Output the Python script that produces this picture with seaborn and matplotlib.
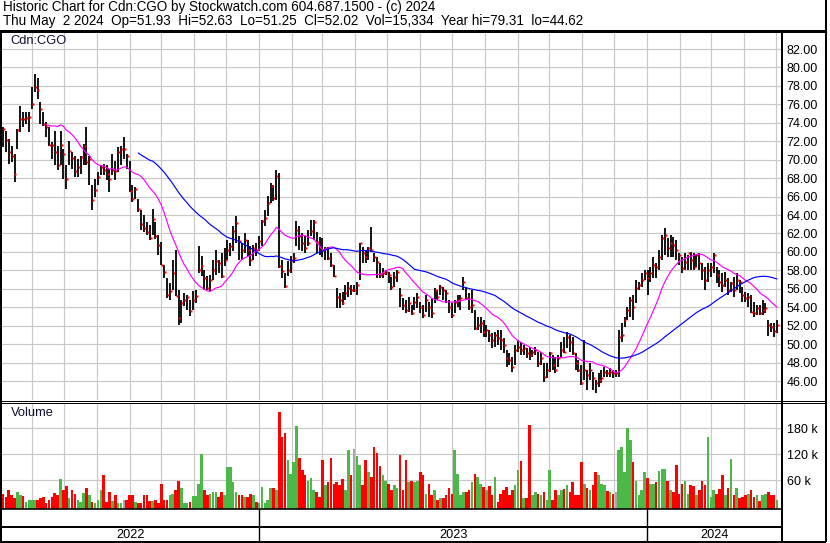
import numpy as np
import pandas as pd
import matplotlib
matplotlib.use("Agg")
import matplotlib.pyplot as plt
import matplotlib.dates as mdates
import matplotlib.ticker as mticker
import seaborn as sns

# ---------------- data (approx. every 2nd session) -------------
price_low = [
    71.35, 70.81, 69.55, 69.73, 67.57, 71.17, 72.97, 73.51, 73.87, 72.97, 75.5, 77.3, 76.58, 73.87, 73.69,
    72.43, 71.53, 70.09, 69.37, 68.83, 69.37, 67.93, 66.85, 69.37, 69.01, 68.11, 68.11, 68.47, 69.37, 69.37,
    67.21, 64.5, 65.95, 67.21, 68.29, 68.29, 67.75, 66.49, 68.29, 67.75, 68.65, 69.37, 70.09, 69.01, 66.49,
    65.41, 65.77, 64.32, 62.34, 62.16, 61.8, 61.26, 61.8, 61.44, 59.64, 58.56, 57.12, 54.95,
    54.82, 55.91, 55.18, 52.12, 52.3, 54.1, 53.74, 53.02, 53.74, 54.46, 57.71, 57.35, 55.91, 55.91, 55.73,
    56.99, 57.53, 57.71, 57.17, 58.43, 59.16, 59.52, 60.06, 60.96, 59.16, 59.16, 59.88, 59.52, 58.43, 59.16,
    59.52, 60.06, 60.6, 62.77, 63.85, 65.29, 65.47, 65.65, 58.2, 57.17, 56.09, 57.35, 57.71, 58.79, 60.6,
    60.24, 60.06, 59.88, 60.6, 61.68, 61.32,
    59.85, 59.67, 59.49, 59.13, 59.13, 58.4, 57.32, 53.89, 53.89, 54.25, 54.79, 55.16, 55.34, 55.7, 55.34,
    56.96, 58.77, 58.77, 59.13, 60.03, 58.95, 57.14, 57.14, 57.14, 57.5, 56.6, 55.88, 56.24, 56.78, 54.07,
    53.71, 53.35, 53.53, 53.17, 53.71, 53.89, 53.35, 52.81, 53.53, 52.99, 52.81, 54.43, 54.79, 55.34, 54.79,
    54.43, 53.35, 52.81, 53.35, 54.07, 53.71, 55.88, 54.79, 53.71,
    53.33, 51.52, 51.52, 51.16, 50.8, 50.8, 50.26, 49.54, 49.72, 49.9, 49.36, 49.0, 47.55, 47.73, 47.01,
    47.73, 49.18, 48.82, 48.82, 48.45, 48.27, 48.64, 48.82, 47.55, 47.73, 45.93, 46.29, 47.01, 47.19, 46.83,
    47.55, 48.64, 49.0, 49.54, 49.18, 48.82, 47.19, 47.01, 45.57, 46.11, 45.03, 46.11, 45.03, 44.66, 45.39,
    45.75, 46.47, 46.47, 46.47, 46.29, 46.47, 46.47, 50.26,
    51.89, 52.61, 52.97, 52.61, 54.42, 55.86, 56.22, 56.95, 55.32, 56.77, 57.13, 57.13, 58.03, 59.11, 59.65,
    59.47, 59.47, 59.47, 59.11, 58.57, 57.67, 58.03, 58.03, 58.03, 58.03, 58.39, 58.03, 56.95, 55.86, 56.77,
    57.31, 57.67, 56.58, 56.22, 55.68, 56.22, 55.32, 55.68, 55.14, 55.86, 55.5, 54.6, 54.6, 54.06, 53.34,
    52.97, 53.16, 53.16, 53.16, 53.34, 50.9, 51.35, 50.81, 51.25,
]
price_high = [
    73.51, 73.15, 72.25, 71.53, 70.63, 73.33, 75.86, 75.14, 75.14, 75.14, 77.84, 79.28, 78.9, 76.22, 75.14,
    74.05, 73.51, 71.89, 73.15, 71.53, 73.15, 71.17, 69.37, 72.07, 70.81, 70.45, 70.09, 70.45, 71.71, 73.51,
    70.45, 67.21, 67.93, 68.65, 69.37, 69.55, 69.37, 69.01, 70.63, 69.91, 71.35, 71.53, 72.43, 70.63, 69.91,
    67.21, 67.03, 65.77, 64.5, 63.96, 63.24, 62.88, 64.68, 63.24, 61.8, 61.08, 58.56, 57.12,
    56.63, 59.16, 60.24, 55.91, 54.82, 55.55, 55.36, 54.82, 55.73, 55.91, 60.6, 59.52, 58.07, 57.35, 57.53,
    59.16, 60.24, 59.16, 59.88, 60.42, 61.32, 60.96, 62.77, 63.85, 61.68, 60.96, 62.04, 61.32, 60.6, 60.78,
    60.96, 61.68, 63.49, 64.57, 66.01, 67.46, 67.28, 68.9, 68.6, 59.16, 57.71, 58.97, 59.52, 59.88, 63.31,
    62.77, 62.04, 61.68, 62.4, 63.49, 63.46,
    62.19, 61.65, 61.47, 60.57, 60.57, 59.85, 58.58, 56.06, 55.52, 55.7, 56.42, 56.78, 56.42, 56.42, 56.78,
    60.93, 60.57, 60.21, 60.57, 62.74, 59.85, 59.49, 58.77, 58.22, 58.04, 57.86, 57.32, 57.86, 58.04, 56.06,
    54.97, 54.79, 55.16, 54.25, 55.16, 55.52, 54.61, 54.25, 55.34, 54.61, 54.97, 56.06, 55.88, 56.42, 56.24,
    55.88, 54.79, 54.43, 54.79, 55.34, 55.34, 57.32, 56.24, 55.52,
    55.86, 53.69, 52.97, 52.97, 52.61, 52.06, 51.52, 51.16, 51.34, 51.52, 51.52, 50.62, 49.36, 49.0, 48.64,
    49.9, 50.44, 50.26, 49.9, 49.54, 49.72, 49.36, 49.72, 49.18, 49.18, 47.91, 47.91, 49.18, 48.82, 48.64,
    48.82, 50.26, 50.8, 51.34, 50.98, 50.8, 49.0, 48.27, 47.73, 50.4, 47.19, 47.91, 47.01, 46.11, 46.83,
    47.19, 47.55, 47.19, 47.37, 47.19, 47.19, 51.52, 52.25,
    52.97, 54.06, 55.14, 55.32, 56.95, 56.77, 57.67, 58.03, 58.03, 58.39, 59.47, 58.75, 60.19, 61.82, 62.54,
    61.46, 61.82, 61.64, 61.28, 59.83, 59.47, 59.83, 59.65, 60.01, 59.83, 59.65, 59.83, 58.75, 58.39, 58.75,
    58.75, 59.83, 58.39, 58.03, 57.67, 57.85, 57.13, 56.77, 57.31, 57.67, 56.95, 56.22, 55.68, 55.5, 55.32,
    54.6, 54.24, 54.24, 54.78, 54.42, 52.61, 52.25, 52.25, 52.63,
]
price_close = [
    73.33, 72.1, 70.88, 70.45, 68.47, 73.26, 74.41, 74.4, 74.5, 74.6, 76.04, 77.84, 77.6, 75.5, 73.84,
    73.51, 71.64, 71.6, 70.81, 69.37, 71.6, 70.63, 67.86, 70.99, 70.16, 68.72, 69.19, 70.27, 71.53, 69.73,
    70.09, 65.59, 66.67, 68.11, 69.19, 68.9, 68.47, 67.93, 68.83, 68.72, 70.88, 71.17, 71.17, 70.45, 66.56,
    65.77, 66.85, 64.68, 63.06, 62.59, 62.16, 61.51, 63.53, 61.73, 60.72, 58.56, 57.84, 55.32,
    55.73, 57.71, 55.18, 52.84, 54.46, 54.82, 55.11, 53.56, 54.82, 55.18, 58.07, 58.43, 57.17, 56.09, 56.99,
    58.07, 58.97, 58.79, 57.35, 59.16, 60.24, 60.6, 62.22, 63.13, 61.14, 60.24, 61.32, 60.24, 59.16, 60.42,
    60.24, 61.14, 63.31, 63.67, 65.29, 67.1, 65.83, 68.18, 58.51, 57.89, 56.27, 58.07, 59.16, 59.34, 62.4,
    61.68, 60.96, 60.42, 60.96, 62.22, 63.28,
    61.11, 60.57, 60.21, 60.39, 59.31, 58.58, 57.39, 55.16, 54.79, 54.43, 55.52, 56.06, 55.88, 55.88, 56.42,
    60.93, 59.85, 59.49, 60.39, 60.21, 59.49, 58.95, 57.5, 57.68, 57.86, 57.5, 56.17, 57.32, 57.86, 55.34,
    54.25, 53.71, 54.43, 53.35, 54.61, 55.16, 54.07, 53.17, 54.79, 54.07, 53.35, 55.88, 55.16, 56.17, 55.88,
    55.52, 54.07, 53.17, 54.61, 54.79, 54.97, 56.78, 54.97, 54.07,
    54.23, 51.7, 52.06, 52.25, 51.34, 51.52, 50.98, 50.44, 50.98, 50.62, 50.44, 49.9, 48.45, 48.27, 47.55,
    49.36, 49.72, 49.36, 49.54, 49.0, 48.82, 49.18, 49.36, 47.91, 48.45, 46.47, 47.19, 49.0, 47.73, 47.19,
    48.45, 49.36, 49.18, 50.8, 50.26, 49.0, 47.91, 47.19, 45.75, 47.19, 46.65, 47.19, 46.29, 45.75, 46.11,
    46.29, 47.01, 46.83, 47.01, 46.83, 46.83, 50.8, 50.98,
    52.61, 53.7, 54.78, 54.06, 56.04, 56.4, 56.95, 57.67, 57.13, 57.67, 58.57, 58.39, 59.47, 61.46, 61.82,
    60.38, 60.92, 60.74, 60.19, 59.65, 58.21, 58.93, 59.83, 59.11, 58.39, 59.65, 58.75, 58.03, 56.95, 58.03,
    58.39, 59.65, 57.49, 56.77, 56.4, 56.95, 55.86, 56.58, 55.86, 56.95, 56.77, 55.32, 54.96, 55.14, 53.52,
    53.34, 53.88, 53.34, 53.7, 53.88, 52.07, 51.89, 51.4, 52.02,
]
volume_k = [
    29, 22, 38, 25, 18, 32, 25, 23, 10, 14, 14, 14, 14, 18, 22, 8, 14, 22, 31, 25,
    62, 38, 47, 18, 38, 28, 14, 10, 31, 41, 25, 10, 8, 15, 38, 72, 10, 32, 12, 25,
    6, 6, 14, 14, 25, 25, 10, 8, 8, 25, 25, 12, 12, 15, 6, 50, 14, 14,
    25, 29, 37, 58, 41, 6, 6, 10, 23, 23, 52, 120, 37, 25, 27, 33, 33, 22, 33, 25,
    91, 91, 55, 33, 25, 25, 20, 22, 29, 25, 10, 8, 45, 8, 15, 41, 41, 37, 218, 160,
    169, 106, 75, 102, 185, 112, 83, 72, 58, 64, 37,
    33, 22, 106, 48, 56, 112, 52, 55, 48, 62, 37, 129, 72, 132, 116, 95, 48, 106, 79, 68,
    137, 122, 93, 72, 58, 50, 37, 48, 41, 118, 37, 106, 56, 58, 56, 58, 79, 73, 29, 50,
    25, 38, 14, 19, 18, 25, 42, 28, 129, 75, 25, 33, 33, 37,
    55, 75, 68, 50, 45, 37, 47, 25, 68, 10, 29, 37, 45, 25, 37, 48, 83, 105, 18, 18,
    187, 25, 32, 29, 25, 32, 14, 83, 14, 37, 25, 37, 39, 48, 33, 56, 25, 25, 102, 52,
    41, 37, 48, 79, 72, 50, 48, 35, 33, 29, 33, 129, 137,
    78, 181, 152, 102, 58, 25, 37, 79, 64, 52, 52, 55, 81, 85, 85, 58, 37, 32, 96, 27,
    50, 58, 27, 48, 47, 25, 37, 58, 48, 161, 22, 37, 29, 39, 72, 25, 41, 108, 25, 41,
    18, 22, 25, 27, 37, 22, 25, 12, 25, 29, 32, 25, 25, 15,
]
price_ticks = [46, 48, 50, 52, 54, 56, 58, 60, 62, 64, 66, 68, 70, 72, 74, 76, 78, 80, 82]
volume_ticks_k = [60, 120, 180]
year_labels = ["2022", "2023", "2024"]
first_date, last_date = "2022-05-05", "2024-05-02"
ma_short, ma_long = 16, 48
symbol = "Cdn:CGO"
header_1 = "Historic Chart for Cdn:CGO by Stockwatch.com 604.687.1500 - (c) 2024"
header_2 = ("Thu May  2 2024  Op=51.93  Hi=52.63  Lo=51.25  Cl=52.02  Vol=15,334  "
            "Year hi=79.31  lo=44.62")

# ---------------- styling ----------------
sns.set_style("white")
plt.rcParams["font.family"] = ["Liberation Sans", "DejaVu Sans"]
GRID = "#C8C8C8"
UP, DOWN, FLAT = "#4CB848", "#FF0000", "#A8A8A8"

n = min(len(price_low), len(price_high), len(price_close), len(volume_k))
dates = pd.date_range(first_date, last_date, periods=n)
df = pd.DataFrame({
    "date": dates,
    "low": price_low[:n], "high": price_high[:n], "close": price_close[:n],
    "vol": volume_k[:n],
})
df["ma_s"] = df["close"].rolling(ma_short).mean()
df["ma_l"] = df["close"].rolling(ma_long).mean()
chg = df["close"].diff().fillna(-1)
df["vcol"] = np.where(chg > 0, UP, np.where(chg < 0, DOWN, FLAT))

W, H = 830, 543
fig = plt.figure(figsize=(W / 100, H / 100), dpi=100)
fig.patch.set_facecolor("white")


def rect(x0, y0, x1, y1):
    return [x0 / W, 1 - y1 / H, (x1 - x0) / W, (y1 - y0) / H]


X0, X1 = 1.5, 781.0
px_per_day = (777 - 3) / ((dates[-1] - dates[0]).days)
xl = dates[0] - pd.Timedelta(days=(3 - X0) / px_per_day)
xr = dates[-1] + pd.Timedelta(days=(X1 - 777) / px_per_day)


def style_axes(ax):
    ax.set_xlim(xl, xr)
    for s in ax.spines.values():
        s.set_visible(False)
    ax.set_facecolor("white")
    ax.set_axisbelow(True)
    ax.xaxis.set_major_locator(mdates.MonthLocator())
    ax.tick_params(axis="x", length=0, labelbottom=False)
    ax.yaxis.tick_right()
    ax.tick_params(axis="y", length=0, pad=4.2, labelsize=9.0, labelcolor="black")
    ax.grid(True, color=GRID, lw=0.85)
    ax.set_xlabel("")
    ax.set_ylabel("")


# ---------------- price panel ----------------
axp = fig.add_axes(rect(X0, 32, X1, 400))
axp.vlines(df["date"], df["low"], df["high"], color="black", lw=1.3, zorder=3)
axp.plot(df["date"] + pd.Timedelta(days=0.9), df["close"], ls="none", marker="s",
         ms=1.5, color="#FF0000", mec="none", zorder=4)
sns.lineplot(data=df, x="date", y="ma_s", ax=axp, color="#FF00FF", lw=0.85, zorder=5)
sns.lineplot(data=df, x="date", y="ma_l", ax=axp, color="#0000FF", lw=0.85, zorder=5)
axp.set_ylim(43.94, 83.845)
axp.set_yticks(price_ticks)
axp.yaxis.set_major_formatter(mticker.FormatStrFormatter("%.2f"))
style_axes(axp)
axp.text(9 / (X1 - X0), 1 - (41.5 - 32) / 368, symbol, transform=axp.transAxes,
         ha="left", va="center", fontsize=9.3, color="#101030")

# ---------------- volume panel ----------------
vmin, vmax = -6.9, 237.7
axv = fig.add_axes(rect(X0, 403.5, X1, 509))
axv.bar(df["date"], df["vol"] - vmin, bottom=vmin, width=2.45,
        color=df["vcol"], linewidth=0, zorder=3)
axv.set_ylim(vmin, vmax)
axv.set_yticks(volume_ticks_k)
axv.yaxis.set_major_formatter(mticker.FuncFormatter(lambda v, p: f"{v:.0f} k"))
style_axes(axv)
axv.text(9 / (X1 - X0), 1 - (413 - 403.5) / 105.5, "Volume", transform=axv.transAxes,
         ha="left", va="center", fontsize=9.3, color="#101030")

# ---------------- date strip ----------------
axd = fig.add_axes(rect(X0, 509, X1, 541))
axd.set_xlim(xl, xr)
axd.set_ylim(0, 1)
axd.axis("off")
for lab in year_labels:
    y0 = pd.Timestamp(f"{lab}-01-01")
    y1 = pd.Timestamp(f"{int(lab) + 1}-01-01")
    if y0 > xl:
        axd.axvline(y0, color="black", lw=1.0)
    a, b = max(y0, xl), min(y1, xr)
    axd.text(a + (b - a) / 2, (541 - 534.5) / 32, lab, ha="center", va="center",
             fontsize=9.2, color="black")

# ---------------- frame lines & header ----------------
ov = fig.add_axes([0, 0, 1, 1], facecolor="none", zorder=10)
ov.set_xlim(0, W)
ov.set_ylim(H, 0)
ov.axis("off")
px = 0.72
ov.hlines(30.5, 0, 826, color="black", lw=3 * px)
ov.vlines(1.0, 30, 542, color="black", lw=2 * px)
ov.vlines(781.7, 30, 542, color="black", lw=2 * px)
ov.vlines(825.5, 0, 542, color="black", lw=2 * px)
ov.hlines([400.5, 402.5], 0, 826, color="black", lw=1 * px)
ov.hlines(509.4, 0, 782, color="black", lw=1.6 * px)
ov.hlines(527.0, 0, 782, color="black", lw=2 * px)
ov.hlines(541.5, 0, 826, color="black", lw=2 * px)
ov.text(2.5, 6.5, header_1, ha="left", va="center", fontsize=9.75, color="black")
ov.text(2.5, 21.0, header_2, ha="left", va="center", fontsize=9.75, color="black")

fig.savefig("out.png", dpi=100, facecolor="white")
